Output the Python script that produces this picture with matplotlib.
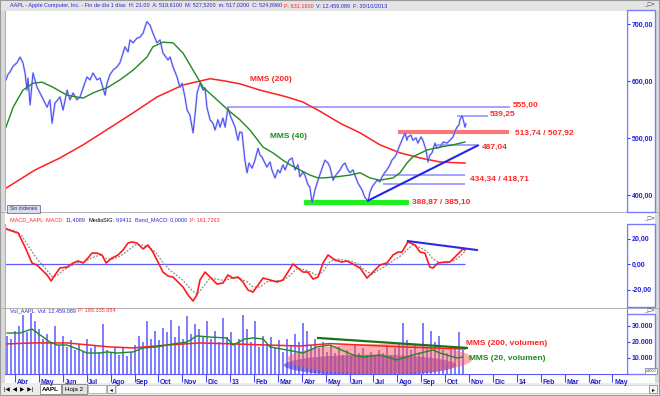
import numpy as np
import matplotlib.pyplot as plt
from matplotlib.patches import Rectangle, Ellipse

plt.rcParams['font.family'] = ['Liberation Sans', 'DejaVu Sans']

W, H = 660, 396

# x axis unit: months counted from 1 Mar 2012 (1 = Abr 2012, 10 = Ene 2013 ...)
month_labels = ['Abr', 'May', 'Jun', 'Jul', 'Ago', 'Sep', 'Oct', 'Nov', 'Dic', '13',
                'Feb', 'Mar', 'Abr', 'May', 'Jun', 'Jul', 'Ago', 'Sep', 'Oct', 'Nov',
                'Dic', '14', 'Feb', 'Mar', 'Abr', 'May']

# price path
price_m = [0.62, 0.71, 0.79, 0.92, 1.08, 1.21, 1.33, 1.42, 1.50, 1.54,
           1.63, 1.75, 1.92, 2.13, 2.34, 2.46, 2.55, 2.67, 2.88, 3.01,
           3.18, 3.30, 3.43, 3.59, 3.72, 3.89, 4.01, 4.14, 4.26, 4.43,
           4.56, 4.77, 4.85, 4.97, 5.10, 5.27, 5.39, 5.60, 5.73, 5.81,
           5.94, 6.10, 6.23, 6.36, 6.44, 6.52, 6.65, 6.77, 6.94, 7.07,
           7.19, 7.40, 7.49, 7.61, 7.78, 7.90, 7.99, 8.11, 8.20, 8.32,
           8.45, 8.53, 8.62, 8.74, 8.87, 8.95, 9.03, 9.16, 9.28, 9.37,
           9.49, 9.58, 9.70, 9.79, 9.91, 10.00, 10.08, 10.21, 10.33, 10.41,
           10.50, 10.62, 10.71, 10.79, 10.92, 11.04, 11.17, 11.25, 11.33, 11.46,
           11.54, 11.67, 11.75, 11.88, 12.00, 12.09, 12.21, 12.30, 12.46, 12.59,
           12.72, 12.84, 12.92, 13.05, 13.13, 13.26, 13.34, 13.43, 13.51, 13.55,
           13.68, 13.85, 13.97, 14.10, 14.18, 14.31, 14.43, 14.60, 14.72, 14.81,
           14.93, 15.02, 15.14, 15.27, 15.35, 15.52, 15.64, 15.77, 15.85, 15.94,
           16.06, 16.15, 16.27, 16.36, 16.48, 16.56, 16.69, 16.77, 16.90, 16.98,
           17.11, 17.19, 17.32, 17.40, 17.44, 17.57, 17.65, 17.78, 17.86, 17.99,
           18.07, 18.20, 18.28, 18.36, 18.45, 18.57, 18.66, 18.78, 18.92, 19.08,
           19.20, 19.33, 19.41, 19.49, 19.58, 19.62, 19.70, 19.74, 19.83, 19.87]
price_p = [602, 612, 616, 626, 632, 642, 632, 614, 584, 605,
           558, 614, 589, 572, 554, 567, 526, 561, 572, 549,
           584, 567, 579, 567, 572, 593, 607, 602, 614, 602,
           605, 575, 596, 611, 619, 625, 632, 660, 651, 672,
           667, 675, 677, 684, 695, 704, 698, 684, 667, 672,
           649, 637, 642, 625, 607, 589, 596, 572, 549, 540,
           509, 540, 579, 596, 584, 588, 554, 532, 526, 514,
           532, 519, 535, 519, 553, 540, 532, 519, 496, 511,
           509, 461, 439, 456, 447, 461, 482, 470, 467, 456,
           449, 458, 444, 430, 444, 439, 453, 444, 461, 465,
           444, 453, 432, 440, 435, 418, 414, 386, 400, 409,
           426, 447, 461, 456, 449, 426, 435, 444, 453, 456,
           444, 439, 444, 430, 421, 409, 396, 389, 404, 414,
           421, 426, 423, 432, 440, 444, 453, 461, 467, 474,
           488, 496, 509, 496, 502, 505, 496, 500, 491, 502,
           496, 479, 458, 470, 474, 491, 482, 484, 493, 491,
           496, 502, 511, 519, 523, 532, 539, 535, 519, 525]

mms40_m = [0.62, 0.92, 1.33, 1.75, 2.13, 2.59, 3.18, 3.85, 4.26, 4.56,
           4.85, 5.39, 5.94, 6.52, 6.77, 7.19, 7.61, 8.03, 8.45, 8.87,
           9.45, 10.00, 10.41, 10.83, 11.38, 11.79, 12.21, 12.51, 12.92, 13.34,
           13.68, 13.89, 14.47, 15.02, 15.44, 15.85, 16.27, 16.82, 17.11, 17.40,
           17.65, 18.24, 18.78, 19.33, 19.83]
mms40_p = [519, 554, 584, 596, 598, 589, 575, 570, 579, 584,
           588, 602, 619, 642, 660, 668, 667, 649, 619, 589,
           567, 546, 532, 514, 484, 474, 461, 453, 444, 435,
           430, 430, 432, 435, 439, 430, 426, 430, 439, 456,
           467, 479, 484, 488, 493]

mms200_m = [0.62, 1.84, 2.88, 3.85, 4.97, 5.94, 6.94, 8.03, 9.16, 9.79, 10.41,
            11.25, 12.38, 13.05, 13.76, 14.60, 15.44, 16.27, 17.11, 17.95, 18.78, 19.83]
mms200_p = [412, 444, 465, 488, 518, 544, 572, 593, 604, 600, 595,
            584, 572, 563, 547, 526, 509, 488, 474, 465, 458, 456]

# MACD panel
macd_m = [0.62, 0.87, 1.13, 1.42, 1.71, 1.92, 2.13, 2.34, 2.51, 2.67,
          2.88, 3.18, 3.43, 3.64, 3.85, 4.05, 4.22, 4.43, 4.64, 4.81,
          5.06, 5.31, 5.52, 5.73, 5.90, 6.10, 6.36, 6.56, 6.77, 6.98,
          7.19, 7.40, 7.61, 7.82, 8.03, 8.24, 8.45, 8.61, 8.74, 8.95,
          9.16, 9.45, 9.70, 9.91, 10.12, 10.33, 10.54, 10.75, 10.96, 11.17,
          11.38, 11.67, 11.96, 12.21, 12.42, 12.63, 12.84, 13.05, 13.26, 13.47,
          13.68, 13.89, 14.10, 14.39, 14.68, 14.89, 15.14, 15.44, 15.73, 15.98,
          16.27, 16.56, 16.82, 17.03, 17.19, 17.44, 17.74, 17.95, 18.15, 18.36,
          18.49, 18.70, 18.99, 19.20, 19.41, 19.62, 19.74, 19.83]
macd_v = [27.5, 25.9, 24.3, 13.3, 0.8, -0.8, -4.7, -8.6, -13.3, -8.6,
          -3.1, -2.4, 0.8, 2.4, 0.8, 4.7, 8.6, 8.6, 7.1, 0.8,
          4.7, 7.1, 11.0, 16.5, 17.3, 16.5, 11.8, 14.9, 9.4, 1.6,
          -6.3, -9.4, -10.2, -14.1, -18.0, -24.3, -29.0, -24.3, -12.5, -6.3,
          -10.2, -15.7, -14.9, -8.6, -11.0, -10.2, -14.1, -20.4, -22.0, -16.5,
          -11.0, -12.5, -14.1, -12.5, -6.3, 0.0, -3.1, -6.3, -6.3, -11.8,
          -10.2, 0.8, 7.1, 3.1, 1.6, 2.4, 0.0, -3.1, -11.0, -6.3,
          -0.8, 0.8, 7.1, 9.4, 9.4, 17.3, 14.9, 9.4, 8.6, -2.4,
          -3.1, 0.8, 1.6, 1.6, 5.5, 9.4, 11.8, 11.0]
sig_m = [0.62, 1.00, 1.29, 1.63, 1.96, 2.26, 2.55, 2.76, 3.01, 3.30,
         3.64, 3.93, 4.22, 4.56, 4.85, 5.10, 5.39, 5.69, 6.02, 6.31,
         6.65, 6.94, 7.19, 7.49, 7.78, 8.03, 8.32, 8.61, 8.87, 9.16,
         9.45, 9.79, 10.08, 10.41, 10.71, 10.96, 11.25, 11.54, 11.88, 12.21,
         12.51, 12.76, 13.01, 13.34, 13.64, 13.89, 14.18, 14.47, 14.81, 15.10,
         15.35, 15.64, 15.94, 16.19, 16.48, 16.77, 17.11, 17.40, 17.65, 17.95,
         18.24, 18.49, 18.78, 19.08, 19.41, 19.62, 19.83]
sig_v = [28, 26, 22, 12, 3, -3, -10, -9, -5, -2,
         1, 2, 5, 7, 4, 4, 6, 10, 15, 15,
         13, 8, 1, -5, -9, -13, -19, -24, -18, -11,
         -12, -13, -11, -11, -14, -18, -18, -14, -13, -13,
         -9, -4, -4, -6, -9, -6, 2, 4, 3, 2,
         0, -5, -8, -5, -2, 2, 6, 11, 15, 13,
         10, 4, 1, 1, 3, 6, 9.9]

# volume panel (millions of shares, axis shows x1000)
vol = [24, 22, 27, 30, 37, 26, 38, 33,
       28, 22, 25, 20, 30, 18, 24,
       17, 21, 15, 19, 14, 22, 16, 18, 14,
       31, 15, 13, 17, 12, 16, 11, 14, 18,
       24, 20, 33, 22, 27, 21, 29,
       26, 34, 23, 30, 22, 36, 25, 31, 28,
       24, 33, 22, 27, 20, 35, 23, 26, 18,
       22, 37, 28, 20, 33, 17, 24,
       19, 23, 16, 21, 14, 22, 18, 25, 20,
       32, 27, 18, 22, 16, 20, 14, 18, 13,
       17, 12, 15, 11, 19, 13, 16, 12, 14,
       11, 15, 13, 18, 12, 16, 19, 32, 21,
       15, 18, 14, 32, 17, 27, 20, 24, 15,
       13, 17, 16, 26, 15]
vol_first, vol_last = 0.67, 19.74
vma20_m = [0.67, 1.21, 1.71, 2.05, 2.46, 2.76, 3.18, 3.72, 4.01, 4.56,
           4.85, 5.27, 5.94, 6.36, 6.94, 7.61, 8.20, 8.61, 9.16, 9.87,
           10.12, 10.62, 10.96, 11.38, 11.67, 12.38, 13.05, 13.64, 14.18, 15.14,
           15.56, 16.27, 16.98, 17.65, 18.49, 18.78, 19.49, 19.74]
vma20_v = [25.6, 25.6, 28.1, 24.4, 20.0, 18.1, 18.1, 15.0, 13.1, 13.1,
           13.8, 13.1, 13.8, 16.3, 16.9, 18.8, 20.0, 23.8, 23.1, 22.5,
           18.1, 21.9, 22.5, 21.9, 16.9, 15.0, 13.1, 16.9, 18.1, 11.9,
           10.6, 11.9, 8.8, 11.9, 15.0, 13.1, 10.0, 10.6]
vma200_m = [0.67, 1.75, 3.18, 4.97, 5.94, 7.36, 8.74, 10.12, 11.54, 12.92, 14.18, 17.11, 19.83]
vma200_v = [18.8, 19.4, 19.4, 16.9, 16.3, 18.1, 19.4, 18.8, 18.1, 17.5, 19.0, 17.0, 15.6]

BLUE_T = '#2727d6'
RED_T = '#ff2828'

fig = plt.figure(figsize=(6.6, 3.96), dpi=100)
fig.patch.set_facecolor('white')


def box(x, y, w, h):
    return [x / W, 1 - (y + h) / H, w / W, h / H]


def frect(x, y, w, h, **kw):
    kw.setdefault('zorder', -1)
    fig.patches.append(Rectangle((x / W, 1 - (y + h) / H), w / W, h / H,
                                 transform=fig.transFigure, **kw))


def ftext(x, y, s, **kw):
    return fig.text(x / W, 1 - y / H, s, **kw)


def rich(x, y, parts, size):
    r = fig.canvas.get_renderer()
    for s, c in parts:
        t = ftext(x, y, s, color=c, fontsize=size, ha='left', va='center')
        x += t.get_window_extent(r).width + 2.2


# window chrome
frect(0, 0, 660, 11, fc='#e4e4e4', ec='none')
frect(0, 11, 5, 372, fc='#dadada', ec='none')
frect(655, 11, 5, 372, fc='#dadada', ec='none')
frect(0, 383, 660, 13, fc='#ececec', ec='none')
frect(0, 212, 660, 1, fc='#b4b4b4', ec='none')
frect(0, 308, 660, 1, fc='#b4b4b4', ec='none')
frect(627, 10, 28, 202, fc='white', ec='#7b7bff', lw=1)
frect(627, 224, 28, 83, fc='white', ec='#7b7bff', lw=1)
frect(627, 314, 28, 60, fc='white', ec='#7b7bff', lw=1)
for yy in (5, 219, 311):
    ftext(655, yy, '_□×', fontsize=4.5, color='#404040', ha='right', va='center')

rich(10, 6, [('AAPL - Apple Computer, Inc. - Fin de día 1 días  H: 21:00  A: 519,6100  M: 527,5200  '
              'm: 517,0200  C: 524,8960', BLUE_T), ('P: 631,1600', RED_T),
             ('V: 12.459.089  F: 30/10/2013', BLUE_T)], 3.95)
rich(10, 220, [('MACD_AAPL  MACD:', RED_T), ('11,4089', BLUE_T), ('MediaSIG:', 'black'),
               ('9,9411', BLUE_T), ('Band_MACD: 0,0000', BLUE_T), ('P: 161,7263', RED_T)], 3.95)
rich(10, 311, [('Vol_AAPL  Vol: 12.459.089', BLUE_T), ('P: 188.335.884', RED_T)], 3.95)

# "Sin órdenes" button
frect(7, 205, 33, 8, fc='#dcdcef', ec='#6c6ca0', lw=0.6, zorder=3)
ftext(23.5, 209, 'Sin órdenes', fontsize=3.6, color='#2a2a60', ha='center', va='center', zorder=4)

# bottom sheet tabs
ftext(4, 389.5, '|◀  ◀  ▶  ▶|', fontsize=4, color='black', va='center')
frect(40, 384, 21, 10, fc='white', ec='#808080', lw=0.6)
ftext(50.5, 389.5, 'AAPL', fontsize=4.5, fontweight='bold', ha='center', va='center')
frect(62, 384, 25, 10, fc='#e2e2e2', ec='#808080', lw=0.6)
ftext(74.5, 389.5, 'Hoja 2', fontsize=4.5, ha='center', va='center')
frect(88, 385, 18, 8, fc='white', ec='#a0a0a0', lw=0.5)
frect(107, 385, 8, 8, fc='#f4f4f4', ec='#808080', lw=0.5)
ftext(111, 389.5, '◂', fontsize=4, ha='center', va='center')
frect(116, 385, 533, 8, fc='white', ec='#c8c8c8', lw=0.5)
frect(649, 385, 8, 8, fc='#f4f4f4', ec='#808080', lw=0.5)
ftext(653, 389.5, '▸', fontsize=4, ha='center', va='center')
ftext(651, 371, 'x1000', fontsize=2.8, color='#303060', ha='center', va='center',
      bbox=dict(boxstyle='square,pad=0.15', fc='white', ec='#7070a0', lw=0.5))

XL = (0.58, 26.61)


def style(ax, ylim, ticks, labels):
    ax.set_xlim(*XL)
    ax.set_ylim(*ylim)
    ax.set_facecolor('white')
    for s in ('top', 'bottom'):
        ax.spines[s].set_visible(False)
    ax.spines['left'].set_color('#b0b0b0')
    ax.spines['right'].set_color('#7b7bff')
    ax.yaxis.tick_right()
    ax.set_yticks(ticks)
    ax.set_yticklabels(labels)
    ax.tick_params(axis='y', direction='out', length=2.5, width=0.8, color='#3a3aff',
                   labelcolor='#2020e0', labelsize=5, pad=1)
    for t in ax.get_yticklabels():
        t.set_fontweight('bold')
    ax.set_xticks([])


# ---- price panel ----
ax1 = fig.add_axes(box(5, 11, 622, 199))
style(ax1, (373.7, 722.8), [400, 500, 600, 700], ['400,00', '500,00', '600,00', '700,00'])

ax1.hlines(555.00, 9.87, 21.71, color='#9c9cff', lw=1.3)
ax1.hlines(539.25, 19.49, 20.79, color='#9c9cff', lw=1.3)
ax1.hlines(487.04, 18.57, 20.33, color='#9c9cff', lw=1.3)
ax1.hlines([434.34, 418.71], 16.40, 19.83, color='#9c9cff', lw=1.3)
ax1.fill_between([17.03, 21.63], 507.92, 513.74, color='#ff7676', ec='#ff7676', lw=0.8)
ax1.fill_between([13.13, 17.44], 385.10, 388.87, color='#1ef01e', ec='#1ef01e', lw=1.6)

ax1.plot(mms200_m, mms200_p, color='#ff2020', lw=1.1)
ax1.plot(price_m, price_p, color='#b4b4ff', lw=1.6, alpha=0.6)
ax1.plot(price_m, price_p, color='#4b4bf2', lw=0.75)
ax1.plot(mms40_m, mms40_p, color='#1f8a1f', lw=1.0)
ax1.plot([15.77, 20.37], [390, 487], color='#2424e8', lw=1.5)

lab = dict(fontsize=6, fontweight='bold', va='center', ha='left')
ax1.text(10.83, 602, 'MMS (200)', color='#ff2020', **lab)
ax1.text(11.67, 502, 'MMS (40)', color='#1f8a1f', **lab)
ax1.text(21.84, 558, '555,00', color=RED_T, **lab)
ax1.text(20.87, 542, '539,25', color=RED_T, **lab)
ax1.text(21.92, 509, '513,74 / 507,92', color=RED_T, **lab)
ax1.text(20.54, 484, '487,04', color=RED_T, **lab)
ax1.text(20.04, 428, '434,34 / 418,71', color=RED_T, **lab)
ax1.text(17.61, 387.7, '388,87 / 385,10', color=RED_T, **lab)

# ---- MACD panel ----
ax2 = fig.add_axes(box(5, 224, 622, 83))
style(ax2, (-33.7, 31.4), [-20, 0, 20], ['-20,00', '0,00', '20,00'])
ax2.hlines(0, XL[0], 19.83, color='#5b5bff', lw=0.9)
ax2.plot(sig_m, sig_v, color='#8a8a8a', lw=0.9, ls=(0, (1.5, 1.2)))
ax2.plot(macd_m, macd_v, color='#ff1a1a', lw=1.2)
ax2.plot([17.44, 20.33], [18, 11], color='#2a2ae8', lw=1.5)

# ---- volume panel ----
ax3 = fig.add_axes(box(5, 309, 622, 65))
style(ax3, (0, 40.6), [10, 20, 30], ['10.000', '20.000', '30.000'])
ax3.spines['bottom'].set_visible(True)
ax3.spines['bottom'].set_color('#5a5aff')
vol_x = np.linspace(vol_first, vol_last, len(vol))
ax3.bar(vol_x, vol, width=0.11, color='#7f7fff', ec='none', zorder=2)
ax3.add_patch(Ellipse((15.85, 5.5), 7.2, 13.0, fc='#5a34c4', alpha=0.6, ec='none', zorder=3))
ax3.add_patch(Ellipse((16.27, 9.4), 7.74, 18.75, fc='#ff5a5a', alpha=0.5, ec='none', zorder=3))
ax3.plot(vma200_m, vma200_v, color='#ff2020', lw=1.1, zorder=4)
ax3.plot(vma20_m, vma20_v, color='#1f8a1f', lw=1.0, zorder=4)
ax3.plot([13.68, 19.91], [22.5, 16.3], color='#177517', lw=1.6, zorder=4)
ax3.text(19.87, 18.75, 'MMS (200, volumen)', color='#ff2020', zorder=5, **lab)
ax3.text(19.99, 9.4, 'MMS (20, volumen)', color='#1f8a1f', zorder=5, **lab)

ax3.set_xticks(range(1, len(month_labels) + 1))
ax3.tick_params(axis='x', direction='out', length=6, width=0.8, color='#4a4aff', labelbottom=False)
for i, lbl in enumerate(month_labels):
    ax3.annotate(lbl, xy=(i + 1, 0), xycoords=('data', 'axes fraction'), xytext=(1.2, -5.8),
                 textcoords='offset points', ha='left', va='center', fontsize=5,
                 fontweight='bold', color='#1f1fc8', annotation_clip=False)

frect(0, 0, 660, 396, fc='none', ec='#9a9a9a', lw=1.5, zorder=10)

fig.savefig('out.png', dpi=100)
